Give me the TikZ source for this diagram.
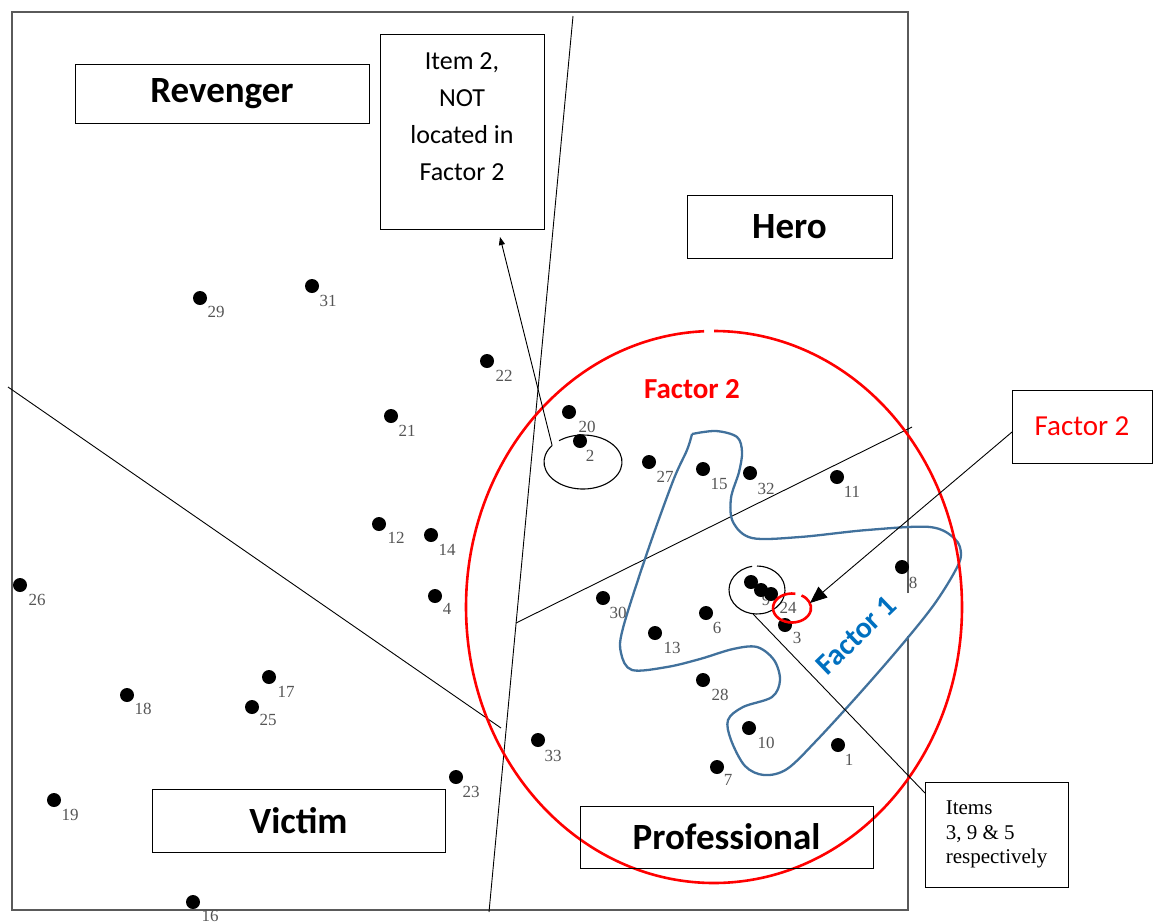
\documentclass[tikz,border=0pt]{standalone}
\usepackage{fontspec}
\setmainfont{Liberation Serif}
\newfontfamily\carlito{Carlito}
\usetikzlibrary{arrows.meta}
\definecolor{facred}{RGB}{255,0,0}
\definecolor{facblue}{RGB}{0,112,192}
\definecolor{loopblue}{RGB}{65,113,156}
\definecolor{numgray}{RGB}{85,85,85}
\definecolor{framegray}{RGB}{90,90,90}

\begin{document}
\begin{tikzpicture}[x=1pt,y=-1pt,
  rolebox/.style={draw=black, line width=1pt, inner sep=0pt,
    font=\carlito\bfseries\fontsize{37}{40}\selectfont},
  dot/.style={circle, fill=black, inner sep=0pt, minimum size=14pt},
  num/.style={font=\fontsize{17}{17}\selectfont, text=numgray, inner sep=0pt},
  guide/.style={black, line width=0.9pt},
  ring/.style={black, line width=1.1pt},
  redring/.style={facred, line width=2.6pt}
]
\useasboundingbox (0,0) rectangle (1155,922);

% plot frame (right side interrupted)
\draw[framegray, line width=2pt] (908,593) -- (908,12) -- (12,12) -- (12,910) -- (908,910) -- (908,636);

% dividing lines between the four regions
\coordinate (vtop) at (573,16);
\coordinate (vbot) at (489,912);
\coordinate (dA) at (8,387);
\coordinate (dB) at (501,728);
\coordinate (hA) at (516,623);
\coordinate (hB) at (912,427);
\draw[guide] (vtop) -- (vbot);
\draw[guide] (dA) -- (dB);
\draw[guide] (hA) -- (hB);

% Factor 1 outline
\draw[loopblue, line width=2.3pt, line join=round] plot[smooth, tension=0.55] coordinates {
  (692,434) (716,431) (737,437) (742,452) (739,472) (731,498) (733,522)
  (752,538) (800,537) (867,530) (930,527) (955,539) (961,555) (954,573)
  (933,606) (900,647) (860,693) (817,740) (787,769) (764,775) (745,766)
  (731,740) (728,720) (743,707) (772,697) (780,680) (774,660) (757,647)
  (733,649) (700,659) (667,667) (632,670) (621,653) (623,628) (647,553)
  (673,481) (687,450) (692,434)};

% Factor 2 boundary
\draw[redring] ([shift={(-92.3:248 and 276)}]714,607)
  arc[start angle=-92.3, end angle=-450, x radius=248, y radius=276];

% item point labels
\foreach \n/\lx/\ly in {29/216/312, 31/328/301, 22/504/376, 21/407/431,
  20/587/427, 2/590/456, 27/665/477, 15/719/484, 32/766/489, 11/852/492,
  12/396/538, 14/447/550, 26/37/600, 4/447/609, 8/913/583, 30/618/613,
  6/717/628, 13/672/648, 3/797/638, 28/720/695, 17/286/692, 18/143/709,
  25/268/720, 10/766/743, 1/849/760, 33/553/756, 7/728/780, 23/471/792,
  19/70/815, 16/210/916, 9/766/600, 24/788/608}
  \node[num] (n\n) at (\lx,\ly) {\n};

% item points
\foreach \n/\x/\y in {29/200/298, 31/312/286, 22/487/361, 21/391/416,
  20/569/412, 2/580/441, 27/649/462, 15/703/469, 32/750/473, 11/837/477,
  12/379/524, 14/431/535, 26/20/585, 4/435/596, 8/902/567, 30/603/598,
  6/706/613, 13/655/633, 3/785/625, 28/703/680, 17/269/677, 18/127/695,
  25/252/707, 10/749/728, 1/838/745, 33/538/740, 7/717/767, 23/456/777,
  19/54/800, 16/193/902, c1/751/582, c2/761/590, c3/771/594}
  \node[dot] (p\n) at (\x,\y) {};

% ring around item 2 and its callout
\draw[ring] ([shift={(-142:39 and 27)}]583,462)
  arc[start angle=-142, end angle=-488, x radius=39, y radius=27];
\coordinate (ringTwo) at (552,445);
\coordinate (tipTwo) at (500,237);
\draw[guide, -{Triangle[length=8pt,width=6pt]}] (ringTwo) -- (tipTwo);

% ring around items 3, 9 and 5 and its callout
\draw[ring] ([shift={(-100:28 and 24)}]757,590)
  arc[start angle=-100, end angle=-450, x radius=28, y radius=24];
\coordinate (ringTri) at (753,614);

% small red ring around item 24
\draw[redring, line width=2.6pt] ([shift={(-80:19 and 14.5)}]792,608)
  arc[start angle=-80, end angle=-420, x radius=19, y radius=14.5];
\coordinate (tipRed) at (810,603);

% region labels
\node[rolebox, minimum width=294pt, minimum height=59pt] (revenger) at (222,93.5) {Revenger};
\node[rolebox, minimum width=205pt, minimum height=63pt] (hero) at (789.5,226.5) {Hero};
\node[rolebox, minimum width=293pt, minimum height=63pt] (victim) at (298.5,820.5) {Victim};
\node[rolebox, minimum width=293pt, minimum height=62pt] (professional) at (726.5,837) {Professional};

% note boxes
\node[draw=black, line width=1pt, inner sep=0pt] (itemtwo) at (462,131.5)
  {\parbox[c][195pt][t]{164pt}{\centering\carlito\fontsize{26}{37}\selectfont
   \vspace*{19pt}Item 2,\\NOT\\located in\\Factor 2}};
\node[draw=black, line width=1pt, inner sep=0pt, minimum width=140pt, minimum height=73pt,
  text=facred, font=\carlito\fontsize{29}{34}\selectfont] (factwobox) at (1082,426.5) {Factor 2};
\node[draw=black, line width=1pt, inner sep=0pt, minimum width=143pt, minimum height=105pt,
  align=left, font=\fontsize{21}{24.5}\selectfont] (itemsbox) at (996.5,834.5)
  {Items\\3, 9 \& 5\\respectively};

\coordinate (boxTri) at (925,793);
\coordinate (boxRed) at (1012,432);
\draw[guide] (ringTri) -- (boxTri);
\draw[guide, -{Triangle[length=17pt,width=14pt]}] (boxRed) -- (tipRed);

% factor names
\node[text=facred, font=\carlito\bfseries\fontsize{29}{34}\selectfont] (factwo) at (692,389) {Factor 2};
\node[text=facblue, font=\carlito\bfseries\fontsize{30}{34}\selectfont, rotate=44] (facone) at (856,635) {Factor 1};
\end{tikzpicture}
\end{document}
